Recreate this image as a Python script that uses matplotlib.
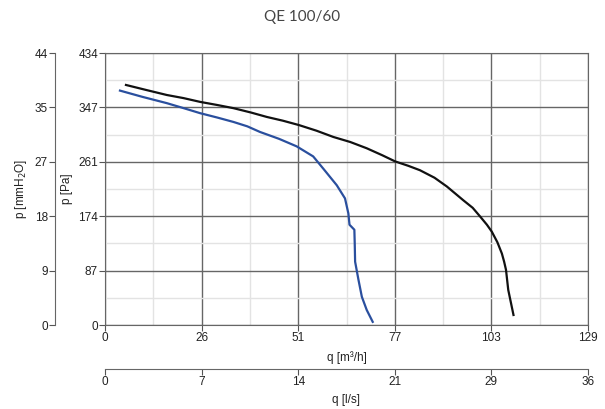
import numpy as np
import matplotlib.pyplot as plt

# fan curves: q in m3/h, p in Pa
q_black = [5.6, 11.0, 16.5, 21.0, 25.4, 30.0, 34.3, 39.0, 43.2, 47.5, 51.8, 56.5,
           61.0, 65.5, 69.9, 74.0, 77.5, 81.0, 84.1, 88.0, 91.3, 95.7, 98.2,
           100.2, 102.0, 103.3, 104.8, 106.0, 106.6, 107.1, 107.7, 108.4, 109.1]
p_black = [383, 375, 367, 362, 356, 351, 346, 339, 332, 326, 319, 310,
           300, 292, 282, 271, 261, 254, 247, 235, 221, 199, 187,
           173, 160, 149, 132, 114, 101, 88, 56, 36, 16]

q_blue = [4.0, 10.0, 16.5, 21.0, 25.4, 30.0, 34.3, 38.0, 41.4, 46.5, 51.2, 55.6,
          58.5, 61.9, 64.1, 65.0, 65.3, 66.6, 66.7, 66.8, 67.7, 68.6, 69.9, 71.5]
p_blue = [374, 364, 354, 346, 338, 331, 324, 317, 308, 297, 285, 269,
          248, 223, 202, 178, 160, 152, 130, 101, 72, 45, 24, 5]

q_max = 129
p_max = 434
q_labels = ['0', '26', '51', '77', '103', '129']
ls_labels = ['0', '7', '14', '21', '29', '36']
p_labels = ['0', '87', '174', '261', '347', '434']
mm_labels = ['0', '9', '18', '27', '35', '44']

plt.rcParams['font.family'] = ['Liberation Sans', 'DejaVu Sans']

fig = plt.figure(figsize=(6.05, 4.09), dpi=100)
ax = fig.add_axes([105/605, 84/409, 483/605, 272/409])

ax.plot(q_black, p_black, color='#111111', lw=1.6)
ax.plot(q_blue, p_blue, color='#2a4f9e', lw=1.6)

ax.set_xlim(0, q_max)
ax.set_ylim(0, p_max)
xt = np.linspace(0, q_max, 6)
yt = np.linspace(0, p_max, 6)
ax.set_xticks(xt, q_labels)
ax.set_yticks(yt, p_labels)
ax.set_xticks((xt[:-1] + xt[1:]) / 2, minor=True)
ax.set_yticks((yt[:-1] + yt[1:]) / 2, minor=True)
ax.grid(True, which='major', color='#666666', lw=1.0)
ax.grid(True, which='minor', color='#e3e3e3', lw=1.0)
ax.set_axisbelow(True)
ax.tick_params(which='minor', length=0)
ax.tick_params(which='major', length=4, color='#555555', labelsize=8.5,
               labelcolor='#222222', pad=1)
for s in ax.spines.values():
    s.set_color('#666666')
ax.set_xlabel('q [m³/h]', fontsize=8.5, color='#222222', labelpad=5)
ax.set_ylabel('p [Pa]', fontsize=8.5, color='#222222', labelpad=4)

# second x axis in l/s
sx = ax.secondary_xaxis(-44/272, functions=(lambda q: q / 3.6, lambda l: l * 3.6))
sx.set_xticks(np.linspace(0, q_max / 3.6, 6), ls_labels)
sx.tick_params(length=4, color='#555555', labelsize=8.5, labelcolor='#222222', pad=1)
sx.spines['bottom'].set_color('#666666')
sx.set_xlabel('q [l/s]', fontsize=8.5, color='#222222', labelpad=4)

# second y axis in mmH2O
sy = ax.secondary_yaxis(-50/483, functions=(lambda p: p / 9.80665, lambda m: m * 9.80665))
sy.set_yticks(np.linspace(0, p_max / 9.80665, 6), mm_labels)
sy.tick_params(length=4, color='#555555', labelsize=8.5, labelcolor='#222222', pad=1)
sy.spines['left'].set_color('#666666')
sy.set_ylabel('p [mmH$_2$O]', fontsize=8.5, color='#222222', labelpad=4)

fig.text(0.5, 1 - 17/409, 'QE 100/60', ha='center', va='center', fontsize=11,
         color='#444444', family=['Lato', 'DejaVu Sans'])

fig.savefig('out.png', dpi=100)
